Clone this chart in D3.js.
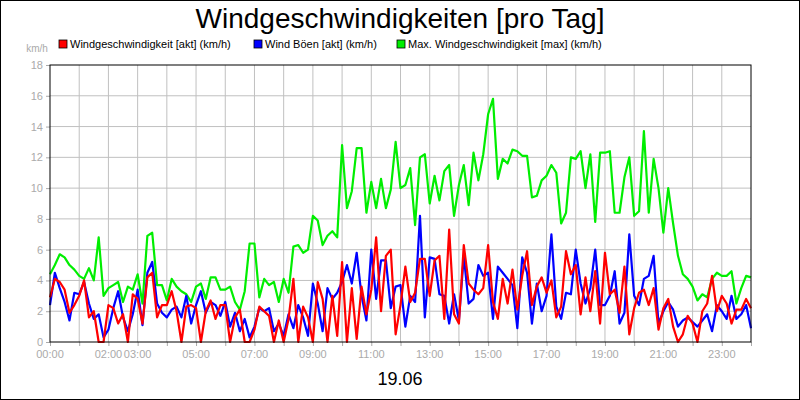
<!DOCTYPE html>
<html><head><meta charset="utf-8">
<script src="https://cdn.jsdelivr.net/npm/d3@7"></script>
<style>body{margin:0;background:#fff}svg{display:block;font-family:"Liberation Sans",Arial,sans-serif}</style>
</head><body><svg id="c" width="800" height="400"></svg>
<script>
// values every 10 minutes, 00:00 .. 24:00
const hours = d3.range(0, 24 + 1e-9, 1/6);
const speed = [
2.9,4.1,3.9,3.4,1.9,2.4, 3.0,4.0,1.6,2.0,0,0, 2.4,2.2,1.2,1.8,0,3.1, 2.8,1.2,4.2,4.5,1.6,2.4,
2.4,3.3,2.0,0,2.3,2.4, 2.2,0,2.0,2.7,1.5,2.4, 2.4,0,1.6,2.1,0,0, 0.8,2.3,2.0,1.7,0,1.4,
0,1.5,4.1,0,2.3,1.6, 0,3.9,2.8,0,3.0,0.4, 5.2,0,3.5,0.2,3.6,1.8, 3.4,6.8,2.0,5.6,6.0,0.5,
2.4,4.9,2.6,3.2,5.4,5.4, 3.0,5.3,5.6,1.5,7.3,1.8, 1.2,6.3,3.8,3.4,3.1,3.5, 6.3,2.6,1.5,4.1,2.5,4.7,
2.1,4.3,5.9,2.4,3.6,4.2, 3.2,4.0,1.6,2.3,5.9,4.4, 5.0,1.8,4.2,2.0,4.6,1.2, 5.8,3.1,3.4,1.9,4.9,0.5,
2.2,3.2,3.4,2.4,3.5,0.8, 2.2,2.8,1.0,0,0.5,1.7, 1.2,0,2.0,2.5,4.3,2.0, 3.0,2.5,1.2,2.1,2.1,2.8, 2.2];
const gusts = [
2.4,4.5,3.5,2.6,1.4,3.2, 3.1,3.9,2.5,1.5,1.8,0.3, 0.8,2.2,3.3,1.6,0.7,1.8, 3.4,1.1,4.5,5.2,2.5,1.9,
1.6,2.1,2.3,1.6,3.0,1.2, 2.4,3.3,1.9,2.6,2.4,1.7, 2.6,1.0,1.9,0.7,1.5,0.3, 1.0,2.2,2.0,2.2,0.7,1.2,
0.4,1.8,0.9,2.4,1.6,0.4, 3.8,2.5,0.7,3.5,2.8,3.2, 3.9,5.0,3.8,5.8,3.0,1.4, 6.0,2.8,5.3,5.3,2.2,3.6,
3.7,1.0,3.0,2.6,8.2,1.6, 5.5,5.4,3.1,3.0,1.2,3.1, 1.4,5.6,2.5,2.8,5.0,4.3, 4.5,1.5,4.9,4.5,4.1,3.7,
0.9,5.5,4.5,1.2,3.8,2.0, 3.0,7.0,2.3,1.5,3.2,3.1, 6.0,3.8,2.5,3.5,6.0,2.4, 2.4,3.0,4.6,1.2,1.9,7.0,
3.0,2.4,4.1,4.3,5.6,1.2, 2.0,2.6,2.1,1.0,1.4,1.6, 1.3,1.0,1.4,1.8,0.7,2.4, 2.0,1.5,3.0,1.5,1.8,2.4, 0.9];
const maxSpeed = [
4.4,5.0,5.7,5.5,5.0,4.7, 4.3,4.1,4.8,4.0,6.8,3.0, 3.5,3.7,3.9,2.6,3.6,3.4, 4.4,2.5,6.9,7.1,3.7,3.7,
2.7,4.1,3.6,3.3,3.1,2.6, 3.6,3.8,2.8,4.2,4.2,3.4, 3.4,3.6,2.6,2.1,3.3,6.4, 6.4,2.9,4.1,3.7,3.9,2.6,
4.1,3.2,6.2,6.3,5.8,6.0, 8.2,7.9,6.3,6.9,7.2,6.8, 12.8,8.7,9.8,12.6,12.6,8.4, 10.4,8.7,10.6,8.7,9.9,13.0,
10.0,10.2,11.3,7.6,12.0,12.2, 9.0,10.8,9.2,11.1,11.5,8.2, 10.2,11.5,8.9,12.3,10.5,12.2, 14.8,15.8,10.6,11.9,11.6,12.5,
12.4,12.1,12.1,9.4,9.5,10.5, 10.8,11.5,11.0,7.7,8.4,12.0, 11.9,12.4,10.0,12.2,7.8,12.3, 12.3,12.4,8.4,8.4,10.7,12.0,
8.2,8.5,13.7,8.4,11.9,10.0, 7.1,10.0,7.7,5.6,4.4,4.1, 3.6,2.7,3.1,2.9,4.1,4.5, 4.3,4.3,4.6,2.5,3.5,4.3, 4.2];
const yTicks = [0,2,4,6,8,10,12,14,16,18];
const xTickHours = [0,2,3,5,7,9,11,13,15,17,19,21,23];
const xTickLabels = ["00:00","02:00","03:00","05:00","07:00","09:00","11:00","13:00","15:00","17:00","19:00","21:00","23:00"];
const seriesNames = ["Windgeschwindigkeit [akt] (km/h)","Wind Böen [akt] (km/h)","Max. Windgeschwindigkeit [max] (km/h)"];
const colors = ["#ff0000","#0000ff","#00ee00"];
const title = "Windgeschwindigkeiten [pro Tag]";
const dateLabel = "19.06";

const svg = d3.select("#c");
const L=50,R=751,T=65,B=342;
const x = d3.scaleLinear().domain([0,24]).range([L,R]);
const y = d3.scaleLinear().domain([0,18]).range([B,T]);

svg.append("rect").attr("x",0.5).attr("y",0.5).attr("width",799).attr("height",399).attr("fill","#fff").attr("stroke","#000");
svg.append("rect").attr("x",L).attr("y",T).attr("width",R-L).attr("height",B-T).attr("fill","#fff");
svg.append("g").selectAll("line").data(d3.range(1,24)).join("line")
 .attr("x1",d=>x(d)).attr("x2",d=>x(d)).attr("y1",T).attr("y2",B).attr("stroke","#c0c0c0");
svg.append("g").selectAll("line").data(yTicks.slice(1,-1)).join("line")
 .attr("x1",L).attr("x2",R).attr("y1",d=>y(d)).attr("y2",d=>y(d)).attr("stroke","#c0c0c0");
const ya = svg.append("g").attr("transform",`translate(${L},0)`).call(d3.axisLeft(y).tickValues(yTicks).tickSize(4).tickPadding(3));
ya.select(".domain").remove();
ya.selectAll("line").attr("stroke","#aaa");
ya.selectAll("text").attr("fill","#aaa").style("font-size","11px");
const xa = svg.append("g").attr("transform",`translate(0,${B})`).call(d3.axisBottom(x).tickValues(d3.range(0,25)).tickSize(4).tickFormat(""));
xa.select(".domain").remove(); xa.selectAll("line").attr("stroke","#aaa");
svg.append("g").selectAll("text").data(xTickHours).join("text")
 .attr("x",d=>x(d)).attr("y",B+16).attr("text-anchor","middle").attr("fill","#aaa").style("font-size","11px")
 .text((d,i)=>xTickLabels[i]);
svg.append("text").attr("x",37).attr("y",52).attr("text-anchor","middle").attr("fill","#aaa").style("font-size","10px").text("km/h");
const line = d3.line().x((d,i)=>x(hours[i])).y(d=>y(d));
[[maxSpeed,2],[gusts,1],[speed,0]].forEach(([s,c])=>{
  svg.append("path").datum(s).attr("d",line).attr("fill","none").attr("stroke",colors[c]).attr("stroke-width",2.2).attr("stroke-linejoin","round");
});
svg.append("rect").attr("x",L).attr("y",T).attr("width",R-L).attr("height",B-T).attr("fill","none").attr("stroke","#000");
svg.append("text").attr("x",400).attr("y",28).attr("text-anchor","middle").style("font-size","28px").text(title);
const lx=[59,254,397];
seriesNames.forEach((n,i)=>{
  svg.append("rect").attr("x",lx[i]).attr("y",40).attr("width",8).attr("height",8).attr("fill",colors[i]).attr("stroke","#000").attr("stroke-width",0.8);
  svg.append("text").attr("x",lx[i]+11).attr("y",48).style("font-size",'11px').text(n);
});
svg.append("text").attr("x",400).attr("y",385).attr("text-anchor","middle").style("font-size","18px").text(dateLabel);
</script></body></html>
